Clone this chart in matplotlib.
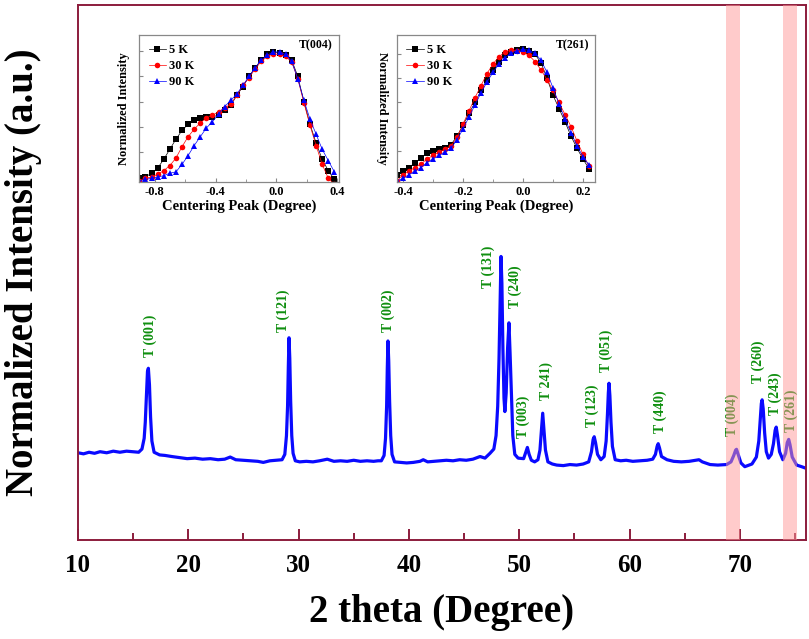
import numpy as np
import matplotlib
matplotlib.use('Agg')
import matplotlib.pyplot as plt
from matplotlib.ticker import MultipleLocator

plt.rcParams['font.family'] = ['Liberation Serif', 'DejaVu Serif']
plt.rcParams['font.weight'] = 'bold'
plt.rcParams['axes.unicode_minus'] = False

# XRD pattern
theta_a = [10.00, 10.50, 11.00, 11.50, 12.00, 12.60, 13.20, 13.80, 14.40, 15.00,
           15.50, 15.80, 16.00, 16.10, 16.20, 16.30, 16.38, 16.48, 16.58, 16.70,
           16.90, 17.40]
inten_a = [16.3, 16.1, 16.4, 16.2, 16.5, 16.3, 16.6, 16.4, 16.6, 16.5,
           16.4, 17.0, 19.0, 22.0, 27.0, 31.5, 32.1, 29.0, 23.0, 18.5,
           16.4, 15.9]

theta_b = [17.90, 18.50, 19.20, 19.90, 20.60, 21.30, 22.00, 22.70, 23.30, 23.80,
           24.30, 25.00, 25.70, 26.30, 26.80, 27.40, 28.00, 28.50, 28.75, 28.90,
           29.00, 29.07, 29.13, 29.20, 29.28, 29.38, 29.50, 29.70]
inten_b = [15.8, 15.6, 15.4, 15.2, 15.3, 15.1, 15.2, 15.0, 15.1, 15.5,
           15.0, 14.9, 14.8, 14.7, 14.5, 14.8, 14.9, 15.0, 16.0, 19.5,
           25.0, 32.5, 37.8, 34.0, 26.0, 19.5, 16.2, 14.8]

theta_c = [30.10, 30.70, 31.30, 31.90, 32.60, 33.20, 33.80, 34.40, 35.00, 35.60,
           36.20, 36.80, 37.20, 37.50, 37.75, 37.88, 37.98, 38.04, 38.10, 38.17,
           38.25, 38.35, 38.47, 38.70]
inten_c = [14.6, 14.7, 14.6, 14.8, 15.1, 14.7, 14.8, 14.7, 14.9, 14.7,
           14.8, 14.7, 14.8, 14.8, 15.8, 19.0, 25.0, 32.0, 37.2, 33.5,
           26.0, 19.5, 16.0, 14.6]

theta_d = [39.20, 39.80, 40.40, 41.00, 41.30, 41.70, 42.30, 42.80, 43.40, 44.00,
           44.60, 45.20, 45.80, 46.45, 46.90, 47.35, 47.70, 47.90, 48.05, 48.17,
           48.27, 48.35, 48.43, 48.52, 48.62, 48.70, 48.82, 48.95, 49.07, 49.17,
           49.30, 49.42, 49.60, 49.90]
inten_d = [14.5, 14.4, 14.5, 14.7, 15.0, 14.6, 14.7, 14.8, 14.9, 14.8,
           15.0, 14.9, 15.1, 15.6, 15.3, 16.2, 17.0, 19.5, 25.0, 34.0,
           45.0, 53.0, 48.0, 36.0, 26.5, 24.0, 27.5, 36.0, 40.6, 35.0,
           27.0, 19.5, 16.0, 15.3]

theta_e = [50.40, 50.60, 50.74, 50.90, 51.10, 51.40, 51.70, 51.88, 52.00, 52.13,
           52.25, 52.38, 52.60, 53.00, 53.40, 54.00, 54.60, 55.20, 55.80, 56.30,
           56.55, 56.70, 56.80, 56.92, 57.10, 57.40, 57.70, 57.88, 58.00, 58.08,
           58.14, 58.22, 58.32, 58.45, 58.70]
inten_e = [15.2, 16.4, 17.3, 16.0, 14.9, 14.6, 15.0, 16.8, 20.0, 23.7,
           20.5, 16.8, 14.6, 14.2, 14.0, 13.9, 14.1, 14.0, 14.2, 14.6,
           16.5, 18.8, 19.3, 18.2, 16.0, 15.0, 15.6, 18.5, 23.5, 27.5,
           29.3, 27.0, 22.0, 17.5, 15.0]

theta_f = [59.20, 59.70, 60.30, 61.00, 61.60, 62.10, 62.35, 62.50, 62.60, 62.72,
           62.90, 63.40, 64.00, 64.70, 65.40, 66.00, 66.30, 66.60, 67.30, 68.00,
           68.80, 69.20, 69.45, 69.62, 69.70, 69.85, 70.10, 70.45]
inten_f = [14.8, 14.9, 14.7, 14.8, 14.9, 15.1, 16.0, 17.5, 18.0, 17.2,
           15.6, 15.0, 14.7, 14.6, 14.7, 14.9, 15.0, 14.6, 14.1, 14.0,
           14.1, 14.6, 15.8, 16.8, 16.95, 16.0, 14.4, 13.7]

theta_g = [71.10, 71.50, 71.72, 71.85, 71.95, 72.02, 72.12, 72.25, 72.40, 72.60,
           72.85, 73.05, 73.20, 73.30, 73.42, 73.60, 73.90, 74.15, 74.30, 74.43,
           74.55, 74.75, 75.15, 75.60, 76.00]
inten_g = [14.2, 15.5, 18.5, 22.5, 25.5, 26.2, 24.5, 20.0, 16.5, 15.3,
           16.0, 18.0, 20.5, 21.1, 19.5, 16.5, 15.0, 16.2, 18.2, 18.8,
           17.8, 15.5, 14.0, 13.7, 13.4]

two_theta = theta_a + theta_b + theta_c + theta_d + theta_e + theta_f + theta_g
intensity = inten_a + inten_b + inten_c + inten_d + inten_e + inten_f + inten_g

# peak labels (text, x position, bottom of the text)
peak_labels = ['T (001)', 'T (121)', 'T (002)', 'T (131)', 'T (240)', 'T (003)', 'T 241)',
               'T (123)', 'T (051)', 'T (440)', 'T (004)', 'T (260)', 'T (243)', 'T (261)']
label_x = [16.53, 28.59, 38.10, 47.17, 49.62, 50.34, 52.43,
           56.60, 57.87, 62.77, 69.28, 71.68, 73.19, 74.70]
label_y = [34.2, 38.9, 38.9, 47.1, 43.4, 19.1, 26.2,
           21.1, 31.4, 20.0, 19.4, 29.3, 23.4, 20.2]

# highlighted regions
band_lo = [68.72, 73.90]
band_hi = [70.02, 75.20]

# inset T(004)
shift_004 = [-0.90, -0.86, -0.82, -0.78, -0.74, -0.70, -0.66, -0.62, -0.58, -0.54, -0.50,
             -0.46, -0.42, -0.38, -0.34, -0.30, -0.26, -0.22, -0.18, -0.14, -0.10, -0.06,
             -0.02, 0.02, 0.06, 0.10, 0.14, 0.18, 0.22, 0.26, 0.30, 0.34, 0.38]
t004_5k = [-0.01, 0.00, 0.03, 0.07, 0.14, 0.22, 0.30, 0.37, 0.42, 0.45, 0.47,
           0.475, 0.48, 0.49, 0.53, 0.57, 0.65, 0.72, 0.80, 0.87, 0.93, 0.975,
           0.995, 0.99, 0.97, 0.93, 0.80, 0.60, 0.42, 0.27, 0.14, 0.05, -0.02]
t004_30k = [-0.03, -0.01, 0.00, 0.02, 0.05, 0.09, 0.15, 0.24, 0.32, 0.38, 0.43,
            0.47, 0.49, 0.52, 0.55, 0.58, 0.65, 0.73, 0.79, 0.86, 0.92, 0.96,
            0.98, 0.975, 0.96, 0.915, 0.78, 0.59, 0.41, 0.25, 0.10, -0.01, -0.06]
t004_90k = [-0.03, -0.02, -0.01, 0.00, 0.01, 0.03, 0.04, 0.10, 0.17, 0.25, 0.32,
            0.39, 0.44, 0.50, 0.56, 0.61, 0.66, 0.73, 0.80, 0.87, 0.93, 0.97,
            0.995, 0.995, 0.975, 0.92, 0.78, 0.61, 0.46, 0.34, 0.22, 0.13, 0.04]

# inset T(261)
shift_261 = [-0.42, -0.40, -0.38, -0.36, -0.34, -0.32, -0.30, -0.28, -0.26, -0.24, -0.22,
             -0.20, -0.18, -0.16, -0.14, -0.12, -0.10, -0.08, -0.06, -0.04, -0.02, 0.00,
             0.02, 0.04, 0.06, 0.08, 0.10, 0.12, 0.14, 0.16, 0.18, 0.20, 0.22]
t261_5k = [0.00, 0.03, 0.06, 0.10, 0.14, 0.18, 0.20, 0.21, 0.22, 0.25, 0.32,
           0.41, 0.51, 0.60, 0.70, 0.79, 0.87, 0.94, 0.99, 1.02, 1.035, 1.04,
           1.03, 1.00, 0.93, 0.80, 0.66, 0.55, 0.44, 0.32, 0.22, 0.13, 0.05]
t261_30k = [-0.05, 0.00, 0.03, 0.06, 0.09, 0.13, 0.16, 0.19, 0.21, 0.24, 0.31,
            0.42, 0.53, 0.64, 0.74, 0.84, 0.92, 0.98, 1.02, 1.035, 1.03, 1.02,
            0.99, 0.94, 0.87, 0.79, 0.70, 0.60, 0.50, 0.40, 0.28, 0.17, 0.07]
t261_90k = [-0.05, -0.03, 0.00, 0.03, 0.06, 0.10, 0.13, 0.16, 0.19, 0.22, 0.29,
            0.38, 0.48, 0.58, 0.68, 0.77, 0.85, 0.92, 0.97, 1.01, 1.03, 1.04,
            1.035, 1.01, 0.95, 0.85, 0.72, 0.59, 0.46, 0.35, 0.24, 0.15, 0.08]

temps = ['5 K', '30 K', '90 K']
temp_colors = ['black', 'red', 'blue']
temp_markers = ['s', 'o', '^']

frame_color = '#8c1c3c'
label_green = '#0f8f0f'


def draw_inset(rect, xs, curves, xlim, ylim, title, xmajor, xminor, ylab_rot):
    ins = fig.add_axes(rect)
    for ys, name, col, mk in zip(curves, temps, temp_colors, temp_markers):
        ins.plot(xs, ys, color=col, marker=mk, markersize=4, lw=0.5,
                 markeredgewidth=0, label=name)
    ins.set_xlim(*xlim)
    ins.set_ylim(*ylim)
    ins.xaxis.set_major_locator(MultipleLocator(xmajor))
    ins.xaxis.set_minor_locator(MultipleLocator(xminor))
    ins.yaxis.set_major_locator(MultipleLocator(0.2))
    ins.tick_params(axis='x', which='both', direction='in', colors='#888888',
                    labelcolor='black', labelsize=9, pad=3)
    ins.tick_params(axis='x', which='major', length=3)
    ins.tick_params(axis='x', which='minor', length=2)
    ins.tick_params(axis='y', direction='in', length=3, colors='#888888', labelleft=False)
    for sp in ins.spines.values():
        sp.set_color('#888888')
        sp.set_linewidth(0.9)
    ins.set_xlabel('Centering Peak (Degree)', fontsize=10.5, fontweight='bold', labelpad=1)
    ins.set_ylabel('Normalized Intensity', fontsize=9, fontweight='bold', rotation=ylab_rot,
                   va='center')
    ins.yaxis.set_label_coords(-0.075, 0.5)
    ins.text(0.97, 0.93, title, transform=ins.transAxes, ha='right', va='center',
             fontsize=8.5, fontweight='bold')
    ins.legend(loc='upper left', frameon=False, fontsize=9, handlelength=1.4,
               handletextpad=0.25, labelspacing=0.3, borderaxespad=0.45, borderpad=0.3)
    return ins


fig = plt.figure(figsize=(8.09, 6.39), dpi=100)
ax = fig.add_axes([0.0964, 0.155, 0.8999, 0.837])

ax.plot(two_theta, intensity, color='#0a0aff', lw=2.3, zorder=2)

for txt, lx, ly in zip(peak_labels, label_x, label_y):
    ax.text(lx, ly, txt, rotation=90, ha='center', va='bottom', color=label_green,
            fontsize=10, fontweight='bold', zorder=3)

for lo, hi in zip(band_lo, band_hi):
    ax.axvspan(lo, hi, color='#ff9999', alpha=0.5, lw=0, zorder=4)

ax.set_xlim(10, 76)
ax.set_ylim(0, 100)
ax.xaxis.set_major_locator(MultipleLocator(10))
ax.xaxis.set_minor_locator(MultipleLocator(5))
ax.tick_params(axis='x', which='both', direction='in', colors=frame_color,
               labelcolor='black', labelsize=18, pad=10, width=1.4)
ax.tick_params(axis='x', which='major', length=8)
ax.tick_params(axis='x', which='minor', length=5)
ax.tick_params(axis='y', left=False, labelleft=False)
for sp in ax.spines.values():
    sp.set_color(frame_color)
    sp.set_linewidth(1.4)

ax.set_xlabel('2 theta (Degree)', fontsize=28, fontweight='bold', labelpad=12)
ax.set_ylabel('Normalized Intensity (a.u.)', fontsize=28, fontweight='bold', va='center')
ax.yaxis.set_label_coords(-0.0755, 0.5)

draw_inset([0.1722, 0.7152, 0.2468, 0.230], shift_004, [t004_5k, t004_30k, t004_90k],
           (-0.9, 0.41), (-0.04, 1.13), 'T(004)', 0.4, 0.2, 90)
draw_inset([0.4907, 0.7152, 0.2448, 0.230], shift_261, [t261_5k, t261_30k, t261_90k],
           (-0.42, 0.24), (-0.06, 1.16), 'T(261)', 0.2, 0.1, 270)

plt.savefig('out.png', dpi=100)
